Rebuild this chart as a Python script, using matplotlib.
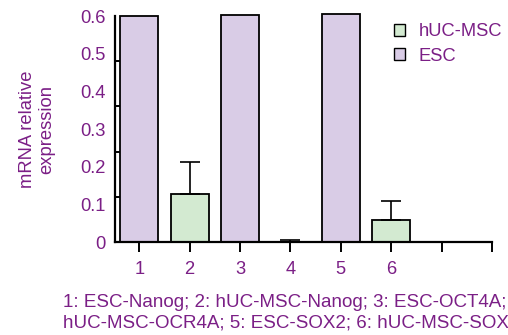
import numpy as np
import matplotlib
matplotlib.use("Agg")
import matplotlib.pyplot as plt
from matplotlib.patches import Patch

plt.rcParams["font.family"] = ["Liberation Sans", "DejaVu Sans"]

_PURPLE = "#7b1f86"
_ESC = "#d9cce6"
_MSC = "#d3ead1"
_FS = 13.2

# bar data
positions = [1, 2, 3, 4, 5, 6]
groups = ["ESC", "hUC-MSC", "ESC", "hUC-MSC", "ESC", "hUC-MSC"]
values = [0.600, 0.127, 0.603, 0.0, 0.606, 0.058]
errors = [0.0, 0.085, 0.0, 0.005, 0.0, 0.051]
x_ticks = [1, 2, 3, 4, 5, 6, 7, 8]
x_labels = ["1", "2", "3", "4", "5", "6", "", ""]
y_labels = [0, 0.1, 0.2, 0.3, 0.4, 0.5, 0.6]
caption = ("1: ESC-Nanog; 2: hUC-MSC-Nanog; 3: ESC-OCT4A; 4:\n"
           "hUC-MSC-OCR4A; 5: ESC-SOX2; 6: hUC-MSC-SOX2")

fig = plt.figure(figsize=(5.08, 3.35), dpi=100)
ax = fig.add_axes([0.2264, 0.2776, 0.7421, 0.6744])

colors = [_ESC if g == "ESC" else _MSC for g in groups]
ax.bar(positions, values, width=0.75, color=colors, edgecolor="black",
       linewidth=1.3, clip_on=False, zorder=2)

# upward-only error bars
for x, v, e in zip(positions, values, errors):
    if e > 0:
        ax.errorbar([x], [v], yerr=[[0], [e]], fmt="none", ecolor="black",
                    elinewidth=1.2, capsize=7.2, capthick=1.2, zorder=3)

ax.set_xlim(0.52, 8.0)
ax.set_ylim(0, 0.6)

for side in ("top", "right"):
    ax.spines[side].set_visible(False)
for side in ("left", "bottom"):
    ax.spines[side].set_linewidth(1.6)
    ax.spines[side].set_zorder(4)

ax.set_xticks(x_ticks)
ax.set_xticklabels(x_labels)
ax.tick_params(axis="x", direction="out", length=7, width=1.4,
               colors="black", labelcolor=_PURPLE, labelsize=_FS, pad=7)

# labels spaced by 0.1, tick marks at fifths
ax.set_yticks(y_labels)
ax.set_yticklabels(["0" if v == 0 else f"{v:.1f}" for v in y_labels])
ax.set_yticks(np.linspace(0, 0.6, 6), minor=True)
ax.tick_params(axis="y", which="major", length=0, labelcolor=_PURPLE,
               labelsize=_FS, pad=7)
ax.tick_params(axis="y", which="minor", direction="in", length=6, width=1.4,
               colors="black")

ax.set_ylabel("mRNA relative\nexpression", color=_PURPLE, fontsize=_FS,
              linespacing=1.15, labelpad=18)

handles = [Patch(facecolor=_MSC, edgecolor="black", linewidth=1.0, label="hUC-MSC"),
           Patch(facecolor=_ESC, edgecolor="black", linewidth=1.0, label="ESC")]
leg = ax.legend(handles=handles, loc="upper left", bbox_to_anchor=(0.696, 1.041),
                frameon=False, fontsize=_FS, handlelength=0.6, handleheight=0.6,
                handletextpad=0.75, labelspacing=0.4)
for t in leg.get_texts():
    t.set_color(_PURPLE)

fig.text(63 / 508, 1 - 294 / 335, caption, color=_PURPLE, fontsize=13.5,
         va="top", ha="left", linespacing=1.28)

fig.savefig("out.png", dpi=100)
